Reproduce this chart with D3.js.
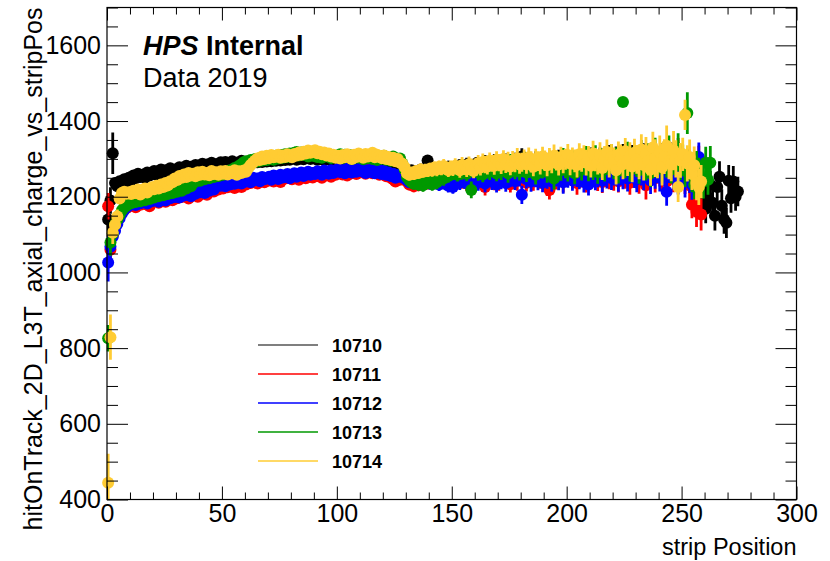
<!DOCTYPE html>
<html>
<head>
<meta charset="utf-8">
<script src="https://cdn.jsdelivr.net/npm/d3@7"></script>
<style>
body { margin: 0; background: #fff; }
text { font-family: "Liberation Sans", Arial, Helvetica, sans-serif; }
</style>
</head>
<body>
<div id="vis"></div>
<script>
// runs and their colours
const runNames = ["10710", "10711", "10712", "10713", "10714"];
const runColors = ["#000000", "#ff0000", "#0000ff", "#009900", "#ffcc33"];
const xTicks = [0, 50, 100, 150, 200, 250, 300];
const yTicks = [400, 600, 800, 1000, 1200, 1400, 1600];

// mean charge per strip (strip i drawn at i + 0.5)
const charge10710 = [
1140,1190,1315,1236,1228,1241,1233,1246,1240,1250,
1244,1256,1249,1261,1252,1258,1250,1264,1256,1262,
1268,1258,1266,1272,1261,1270,1264,1275,1266,1272,
1266,1278,1271,1275,1282,1270,1279,1274,1284,1276,
1281,1287,1276,1285,1279,1290,1282,1286,1278,1291,
1285,1292,1283,1289,1294,1284,1290,1287,1295,1288,
1292,1289,1294,1290,1293,1291,1296,1292,1295,1293,
1298,1294,1297,1295,1300,1296,1299,1297,1302,1298,
1301,1303,1298,1300,1304,1299,1302,1305,1300,1303,
1301,1298,1304,1300,1297,1302,1299,1296,1301,1298,
1296,1300,1297,1294,1299,1296,1293,1298,1295,1292,
1297,1294,1291,1296,1293,1290,1295,1292,1289,1294,
1291,1288,1293,1287,1290,1286,1289,1284,1281,1276,
1262,1266,1270,1259,1268,1264,1272,1261,1269,1296,
1274,1263,1271,1267,1276,1262,1273,1268,1279,1266,
1265,1277,1270,1283,1268,1276,1285,1271,1280,1274,
1287,1270,1282,1277,1289,1273,1284,1279,1291,1275,
1286,1281,1278,1293,1272,1288,1283,1295,1276,1290,
1306,1270,1292,1281,1288,1274,1296,1283,1279,1291,
1268,1287,1294,1277,1289,1282,1298,1273,1290,1285,
1297,1279,1288,1292,1276,1300,1284,1289,1295,1281,
1302,1286,1293,1278,1299,1288,1296,1283,1305,1290,
1287,1301,1294,1280,1306,1292,1298,1285,1303,1289,
1300,1295,1282,1308,1291,1297,1286,1304,1293,1299,
1288,1306,1294,1301,1284,1310,1296,1290,1303,1287,
1282,1270,1262,1248,1240,1225,1232,1205,1180,1215,
1168,1198,1232,1184,1150,1226,1253,1176,1140,1131,
1242,1196,1240,1200,1214];
const err10710 = [
40,35,55,14,12,10,9,9,8,8,
8,7,8,7,7,8,7,7,8,7,
7,7,8,7,7,7,8,7,7,7,
7,8,7,7,7,7,8,7,7,7,
7,7,8,7,7,7,7,8,7,7,
7,7,7,8,7,7,7,7,8,7,
7,7,8,7,7,7,8,7,7,8,
7,8,7,7,8,7,7,8,7,7,
8,7,7,8,7,8,7,7,8,7,
7,8,7,8,7,7,8,7,8,7,
8,7,8,7,8,8,7,8,7,8,
8,8,7,8,8,7,8,8,8,7,
8,8,9,8,8,9,8,9,9,10,
12,13,12,14,13,12,14,13,15,13,
14,15,13,16,14,15,17,14,16,15,
16,18,15,17,19,16,18,17,20,16,
18,20,17,19,21,18,20,19,22,18,
20,22,19,21,23,20,22,21,24,20,
22,24,21,23,25,22,24,23,26,22,
24,26,23,25,27,24,26,25,28,24,
25,28,24,27,29,26,28,25,30,27,
28,30,26,29,31,27,30,28,32,29,
30,32,28,31,33,29,32,30,34,31,
32,34,30,33,35,31,34,32,36,33,
34,36,32,35,38,33,36,34,40,35,
36,34,38,35,37,36,40,38,35,42,
38,40,36,42,39,37,41,44,38,40,
42,38,41,37,39];

const charge10711 = [
1175,1060,1098,1122,1138,1150,1158,1166,1170,1176,
1176,1184,1172,1186,1179,1190,1181,1188,1175,1192,
1188,1196,1184,1199,1190,1187,1197,1202,1191,1205,
1196,1207,1199,1211,1202,1195,1209,1204,1214,1200,
1213,1208,1217,1205,1220,1226,1214,1228,1219,1231,
1222,1233,1225,1229,1236,1223,1238,1230,1226,1241,
1232,1244,1236,1240,1247,1235,1242,1249,1238,1246,
1243,1250,1240,1253,1246,1239,1255,1248,1251,1257,
1246,1258,1252,1245,1260,1254,1249,1262,1256,1251,
1263,1255,1259,1250,1264,1257,1261,1253,1266,1258,
1262,1268,1259,1265,1256,1270,1262,1267,1260,1272,
1265,1269,1261,1273,1266,1262,1270,1264,1258,1267,
1260,1254,1263,1250,1246,1240,1251,1245,1256,1249,
1240,1232,1238,1228,1236,1230,1241,1233,1239,1235,
1243,1236,1246,1238,1250,1241,1247,1244,1252,1239,
1245,1251,1238,1256,1242,1249,1235,1254,1246,1240,
1258,1243,1250,1236,1226,1253,1247,1260,1241,1255,
1238,1262,1248,1244,1257,1233,1265,1250,1242,1259,
1246,1268,1237,1255,1263,1240,1258,1271,1249,1244,
1262,1230,1218,1256,1267,1245,1274,1252,1241,1266,
1259,1270,1247,1264,1236,1278,1255,1261,1243,1272,
1250,1266,1280,1246,1258,1239,1275,1262,1254,1283,
1248,1269,1241,1286,1260,1252,1277,1237,1265,1290,
1256,1244,1272,1262,1230,1281,1258,1267,1249,1294,
1263,1254,1285,1240,1272,1298,1250,1278,1311,1262,
1288,1245,1275,1230,1179,1215,1160,1240,1153];
const err10711 = [
35,40,30,22,18,15,13,12,11,10,
9,9,8,9,8,8,9,8,8,8,
8,8,8,9,8,8,8,8,9,8,
8,8,9,8,8,8,8,9,8,8,
8,9,8,8,8,9,8,8,8,9,
8,8,9,8,8,8,9,8,8,8,
9,8,8,8,9,8,8,9,8,8,
8,9,8,8,9,8,9,8,8,9,
8,9,8,9,8,8,9,8,9,8,
9,8,9,8,9,9,8,9,8,9,
9,9,8,9,9,8,9,9,9,8,
9,9,9,10,9,9,10,9,9,10,
10,10,11,10,11,12,11,12,12,13,
14,15,14,16,15,14,16,15,17,15,
16,17,15,18,16,17,19,16,18,17,
18,20,17,19,21,18,20,19,22,18,
20,22,19,21,23,20,22,21,24,20,
22,24,21,23,25,22,24,23,26,22,
24,26,23,25,27,24,26,25,28,24,
26,28,25,27,29,26,28,27,30,26,
27,30,26,29,31,28,30,27,32,29,
30,32,28,31,33,29,32,30,34,31,
32,34,30,33,35,31,34,32,36,33,
34,36,32,35,37,33,36,34,38,35,
36,38,34,37,40,35,38,36,44,37,
40,38,45,42,36,48,40,95,42];

const charge10712 = [
1026,1068,1094,1110,1128,1143,1156,1165,1172,1176,
1180,1187,1178,1190,1183,1186,1192,1182,1194,1188,
1192,1199,1187,1201,1194,1190,1203,1196,1206,1199,
1204,1198,1210,1203,1212,1206,1201,1215,1208,1217,
1212,1220,1210,1223,1216,1224,1219,1227,1233,1229,
1236,1228,1239,1232,1241,1234,1237,1243,1235,1246,
1240,1247,1238,1250,1244,1248,1241,1252,1246,1249,
1253,1245,1256,1250,1247,1258,1251,1254,1260,1249,
1257,1262,1253,1259,1264,1255,1261,1266,1258,1263,
1260,1267,1262,1258,1269,1264,1261,1270,1263,1267,
1273,1265,1270,1262,1274,1268,1264,1271,1266,1275,
1268,1272,1263,1270,1266,1273,1262,1269,1271,1260,
1268,1258,1264,1255,1261,1250,1257,1253,1262,1248,
1244,1238,1242,1236,1236,1240,1233,1238,1236,1242,
1235,1244,1236,1247,1232,1250,1238,1245,1229,1248,
1226,1243,1252,1237,1255,1240,1248,1233,1257,1244,
1250,1238,1262,1245,1235,1258,1249,1240,1265,1232,
1253,1244,1261,1236,1256,1248,1268,1241,1259,1250,
1205,1262,1246,1255,1240,1270,1251,1243,1264,1237,
1258,1249,1272,1240,1266,1254,1245,1275,1238,1261,
1252,1268,1243,1277,1257,1248,1265,1239,1280,1232,
1260,1271,1246,1256,1283,1242,1267,1253,1276,1249,
1262,1287,1244,1270,1255,1279,1248,1268,1291,1257,
1246,1274,1263,1252,1296,1266,1243,1281,1259,1271,
1250,1288,1262,1213,1276,1302,1257,1269,1248,1284,
1266,1240,1291,1255,1232,1272,1250,1305];
const err10712 = [
50,40,30,22,18,15,13,12,11,10,
9,9,9,8,9,8,8,9,8,8,
8,9,8,8,8,9,8,8,8,8,
9,8,8,8,9,8,8,8,9,8,
8,8,9,8,8,8,8,9,8,8,
9,8,8,8,9,8,8,8,8,9,
8,8,9,8,8,9,8,8,8,9,
8,8,9,8,9,8,8,9,8,9,
9,8,9,8,9,8,9,8,9,9,
8,9,9,8,9,9,9,8,9,9,
9,9,9,8,9,9,9,9,9,9,
9,10,9,9,10,9,10,9,10,10,
10,11,10,11,11,12,11,12,13,13,
14,15,15,16,14,15,16,15,17,16,
16,17,16,18,17,17,19,17,18,18,
18,20,18,19,21,19,20,19,22,19,
20,22,20,21,23,20,22,22,24,21,
22,24,22,23,25,23,24,23,26,23,
24,26,24,25,27,24,26,26,28,25,
26,28,26,27,29,27,28,27,30,27,
28,30,27,29,31,28,30,28,32,29,
30,32,29,31,33,30,32,31,34,31,
32,34,31,33,35,32,34,32,36,34,
34,36,33,35,37,34,36,35,38,35,
36,38,35,37,40,36,38,37,42,38,
38,42,36,45,40,37,44,38];

const charge10713 = [
826,1079,1102,1126,1140,1152,1164,1172,1176,1182,
1183,1191,1186,1195,1188,1197,1191,1199,1194,1202,
1198,1206,1201,1209,1204,1212,1207,1215,1210,1218,
1213,1220,1216,1225,1222,1231,1228,1236,1240,1246,
1242,1251,1246,1254,1249,1257,1252,1260,1255,1263,
1258,1265,1261,1270,1268,1276,1274,1282,1286,1291,
1294,1288,1297,1291,1300,1293,1302,1296,1304,1297,
1299,1306,1298,1308,1301,1310,1303,1312,1305,1314,
1307,1316,1318,1309,1317,1310,1315,1306,1313,1308,
1314,1305,1312,1303,1310,1307,1313,1302,1309,1304,
1309,1312,1302,1311,1305,1310,1300,1308,1303,1311,
1306,1299,1308,1302,1310,1300,1307,1297,1305,1301,
1308,1298,1303,1295,1306,1299,1294,1301,1288,1272,
1252,1244,1238,1234,1240,1232,1238,1230,1242,1236,
1240,1233,1246,1238,1252,1260,1248,1266,1255,1270,
1262,1275,1258,1271,1266,1278,1261,1273,1218,1269,
1280,1264,1276,1259,1283,1270,1266,1285,1272,1262,
1288,1268,1279,1274,1262,1290,1277,1270,1284,1266,
1281,1293,1264,1276,1287,1271,1258,1290,1279,1273,
1286,1265,1295,1278,1248,1283,1291,1270,1299,1276,
1268,1288,1294,1262,1281,1297,1273,1287,1302,1270,
1290,1276,1305,1265,1284,1298,1272,1293,1286,1308,
1278,1296,1268,1300,1450,1282,1311,1274,1294,1304,
1286,1270,1315,1291,1280,1306,1262,1298,1318,1284,
1295,1276,1310,1288,1322,1272,1301,1290,1326,1281,
1300,1268,1421,1284,1256,1232,1275,1262,1248,1240,
1290,1245,1290];
const err10713 = [
35,35,28,22,18,15,13,12,11,10,
9,9,8,9,8,9,8,8,9,8,
8,9,8,8,9,8,8,8,9,8,
8,8,9,8,8,9,8,8,8,9,
8,8,8,9,8,8,9,8,8,8,
9,8,8,9,8,8,8,9,8,8,
8,9,8,8,8,9,8,8,9,8,
9,8,8,9,8,8,9,8,9,8,
8,9,8,9,8,9,8,9,8,9,
9,8,9,9,8,9,9,8,9,9,
9,9,8,9,9,9,9,8,9,9,
9,9,10,9,9,10,9,9,10,9,
10,10,10,11,10,11,12,11,12,13,
14,15,16,15,14,16,15,17,16,15,
16,17,16,18,17,18,19,17,18,17,
18,20,18,19,21,19,20,20,22,19,
20,22,21,21,23,21,22,22,24,21,
22,24,23,23,25,23,24,24,26,23,
24,26,25,25,27,25,26,26,28,25,
26,28,27,27,29,27,28,28,30,27,
28,30,29,29,31,29,30,30,32,29,
30,32,31,31,33,31,32,32,34,31,
32,34,33,33,12,33,34,34,36,33,
34,36,35,35,37,35,36,36,38,35,
36,38,37,37,40,37,38,38,42,37,
38,42,55,40,44,38,46,41,39,45,
42,40,44];

const charge10714 = [
444,829,1105,1126,1148,1195,1210,1213,1208,1212,
1207,1216,1210,1219,1206,1215,1222,1211,1218,1225,
1220,1229,1222,1232,1226,1236,1230,1241,1238,1248,
1244,1255,1250,1259,1252,1263,1256,1261,1254,1265,
1258,1266,1259,1263,1257,1268,1260,1265,1258,1267,
1261,1268,1259,1266,1262,1270,1258,1267,1263,1269,
1266,1276,1284,1290,1296,1301,1297,1306,1300,1308,
1302,1310,1304,1306,1311,1303,1309,1305,1312,1307,
1304,1313,1309,1317,1311,1319,1314,1322,1316,1320,
1323,1315,1319,1312,1317,1309,1314,1306,1311,1303,
1308,1301,1310,1304,1312,1306,1300,1311,1305,1314,
1309,1303,1313,1306,1310,1316,1304,1311,1307,1302,
1309,1300,1305,1297,1303,1294,1300,1290,1287,1278,
1262,1258,1264,1260,1268,1263,1272,1266,1270,1268,
1274,1270,1277,1272,1279,1274,1281,1276,1270,1278,
1273,1282,1276,1270,1284,1278,1272,1286,1279,1268,
1283,1288,1277,1292,1285,1280,1295,1288,1282,1298,
1290,1284,1300,1287,1293,1280,1296,1289,1302,1285,
1291,1298,1286,1304,1292,1279,1300,1294,1288,1306,
1295,1283,1302,1290,1308,1296,1285,1304,1293,1299,
1310,1288,1301,1295,1284,1312,1297,1306,1290,1303,
1282,1314,1298,1292,1308,1276,1300,1318,1289,1305,
1296,1270,1311,1302,1286,1320,1293,1307,1280,1316,
1299,1288,1325,1284,1312,1295,1272,1330,1302,1290,
1318,1278,1306,1335,1293,1286,1322,1300,1226,1296,
1312,1416,1288,1305,1260,1283,1236,1226,1240];
const err10714 = [
77,60,30,22,18,14,12,11,10,10,
9,9,8,9,8,8,9,8,8,8,
8,8,9,8,8,8,8,9,8,8,
8,9,8,8,8,9,8,8,8,8,
9,8,8,8,9,8,8,8,9,8,
8,8,9,8,8,8,9,8,8,9,
8,8,8,9,8,8,9,8,8,8,
9,8,8,9,8,9,8,8,9,8,
8,9,8,9,8,8,9,8,9,8,
9,8,9,8,9,8,9,9,8,9,
9,9,8,9,9,9,8,9,9,9,
9,10,9,9,10,9,9,10,9,10,
10,10,11,10,11,11,12,11,12,13,
14,15,14,16,15,15,16,15,17,16,
16,17,16,18,17,17,19,17,18,18,
18,20,18,20,21,19,20,20,22,19,
20,22,21,22,23,21,22,22,24,22,
23,24,23,24,26,23,25,24,27,24,
25,27,25,26,28,25,27,26,29,26,
27,29,27,28,30,27,29,28,31,28,
29,31,29,30,33,29,31,30,34,31,
31,34,31,33,36,32,34,33,38,34,
34,38,35,36,40,35,38,37,42,37,
38,42,40,41,46,39,43,42,50,41,
44,48,46,53,47,45,52,49,40,46,
44,40,48,46,42,50,45,48,44];

const main = () => {
	draw();
};

const draw = () => {
	const vis = d3.select("#vis");
	vis.selectAll("*").remove();
	const W = 830;
	const H = 561;
	const svg = vis.append("svg").attr("width", W).attr("height", H);

	const left = 107, right = 796.5, top = 7.5, bottom = 499.5;

	const x = d3.scaleLinear().domain([0, 300]).range([left, right]);
	const y = d3.scaleLinear().domain([400, 1700]).range([bottom, top]);

	const xMinor = d3.range(0, 301, 10).filter(v => v % 50 !== 0);
	const yMinor = d3.range(400, 1701, 50).filter(v => v % 200 !== 0);

	// error bars are cut at the y range, markers are drawn whole
	svg.append("clipPath").attr("id", "frame-clip")
		.append("rect")
		.attr("x", 0).attr("y", top)
		.attr("width", W).attr("height", bottom - top);

	const series = [
		{ values: charge10710, errors: err10710 },
		{ values: charge10711, errors: err10711 },
		{ values: charge10712, errors: err10712 },
		{ values: charge10713, errors: err10713 },
		{ values: charge10714, errors: err10714 }
	];

	const plot = svg.append("g").attr("id", "plot");
	series.forEach((s, si) => {
		const pts = s.values.map((v, i) => ({ strip: i + 0.5, v: v, e: s.errors[i] }));
		const g = plot.append("g").attr("class", "run-" + runNames[si]);
		g.append("g")
			.attr("clip-path", "url(#frame-clip)")
			.selectAll("line")
			.data(pts)
			.enter()
			.append("line")
			.attr("x1", d => x(d.strip))
			.attr("x2", d => x(d.strip))
			.attr("y1", d => y(d.v - d.e))
			.attr("y2", d => y(d.v + d.e))
			.attr("stroke", runColors[si])
			.attr("stroke-width", 2.8);
		g.selectAll("circle")
			.data(pts)
			.enter()
			.append("circle")
			.attr("cx", d => x(d.strip))
			.attr("cy", d => y(d.v))
			.attr("r", 6)
			.attr("fill", runColors[si]);
	});

	// axes, ROOT style ticks pointing inwards on all four sides
	const styleAxis = (g) => {
		g.select(".domain").remove();
		g.selectAll("line").attr("stroke", "#000").attr("stroke-width", 1);
		g.selectAll("text")
			.attr("font-family", "'Liberation Sans', Arial, sans-serif")
			.attr("font-size", 25)
			.attr("fill", "#000");
	};
	const fmt = d3.format("d");

	svg.append("g").attr("transform", `translate(0,${bottom})`)
		.call(d3.axisBottom(x).tickValues(xTicks).tickSize(-13).tickPadding(5).tickFormat(fmt))
		.call(styleAxis);
	svg.append("g").attr("transform", `translate(0,${bottom})`)
		.call(d3.axisBottom(x).tickValues(xMinor).tickSize(-7).tickFormat(""))
		.call(styleAxis);
	svg.append("g").attr("transform", `translate(0,${top})`)
		.call(d3.axisTop(x).tickValues(xTicks).tickSize(-13).tickFormat(""))
		.call(styleAxis);
	svg.append("g").attr("transform", `translate(0,${top})`)
		.call(d3.axisTop(x).tickValues(xMinor).tickSize(-7).tickFormat(""))
		.call(styleAxis);

	svg.append("g").attr("transform", `translate(${left},0)`)
		.call(d3.axisLeft(y).tickValues(yTicks).tickSize(-21).tickPadding(6).tickFormat(fmt))
		.call(styleAxis);
	svg.append("g").attr("transform", `translate(${left},0)`)
		.call(d3.axisLeft(y).tickValues(yMinor).tickSize(-11).tickFormat(""))
		.call(styleAxis);
	svg.append("g").attr("transform", `translate(${right},0)`)
		.call(d3.axisRight(y).tickValues(yTicks).tickSize(-21).tickFormat(""))
		.call(styleAxis);
	svg.append("g").attr("transform", `translate(${right},0)`)
		.call(d3.axisRight(y).tickValues(yMinor).tickSize(-11).tickFormat(""))
		.call(styleAxis);

	// frame
	svg.append("rect")
		.attr("x", left).attr("y", top)
		.attr("width", right - left).attr("height", bottom - top)
		.attr("fill", "none")
		.attr("stroke", "#000")
		.attr("stroke-width", 1.2);

	// axis titles
	svg.append("text")
		.attr("x", right).attr("y", 555)
		.attr("text-anchor", "end")
		.attr("font-size", 23.5)
		.text("strip Position");
	svg.append("text")
		.attr("transform", `translate(42,${top}) rotate(-90)`)
		.attr("text-anchor", "end")
		.attr("font-size", 25)
		.text("hitOnTrack_2D_L3T_axial_charge_vs_stripPos");

	// labels
	const hps = svg.append("text")
		.attr("x", 143).attr("y", 55)
		.attr("font-size", 27)
		.attr("font-weight", "bold");
	hps.append("tspan").attr("font-style", "italic").text("HPS");
	hps.append("tspan").text(" Internal");
	svg.append("text")
		.attr("x", 143).attr("y", 87)
		.attr("font-size", 27)
		.text("Data 2019");

	// legend
	const legend = svg.append("g").attr("id", "legend");
	runNames.forEach((name, i) => {
		const ly = 345 + i * 29;
		legend.append("line")
			.attr("x1", 258).attr("x2", 318)
			.attr("y1", ly).attr("y2", ly)
			.attr("stroke", runColors[i])
			.attr("stroke-width", i === 0 ? 1.2 : 1.6);
		legend.append("text")
			.attr("x", 332).attr("y", ly + 7)
			.attr("font-size", 18)
			.attr("font-weight", "bold")
			.text(name);
	});
};

main();
</script>
</body>
</html>
